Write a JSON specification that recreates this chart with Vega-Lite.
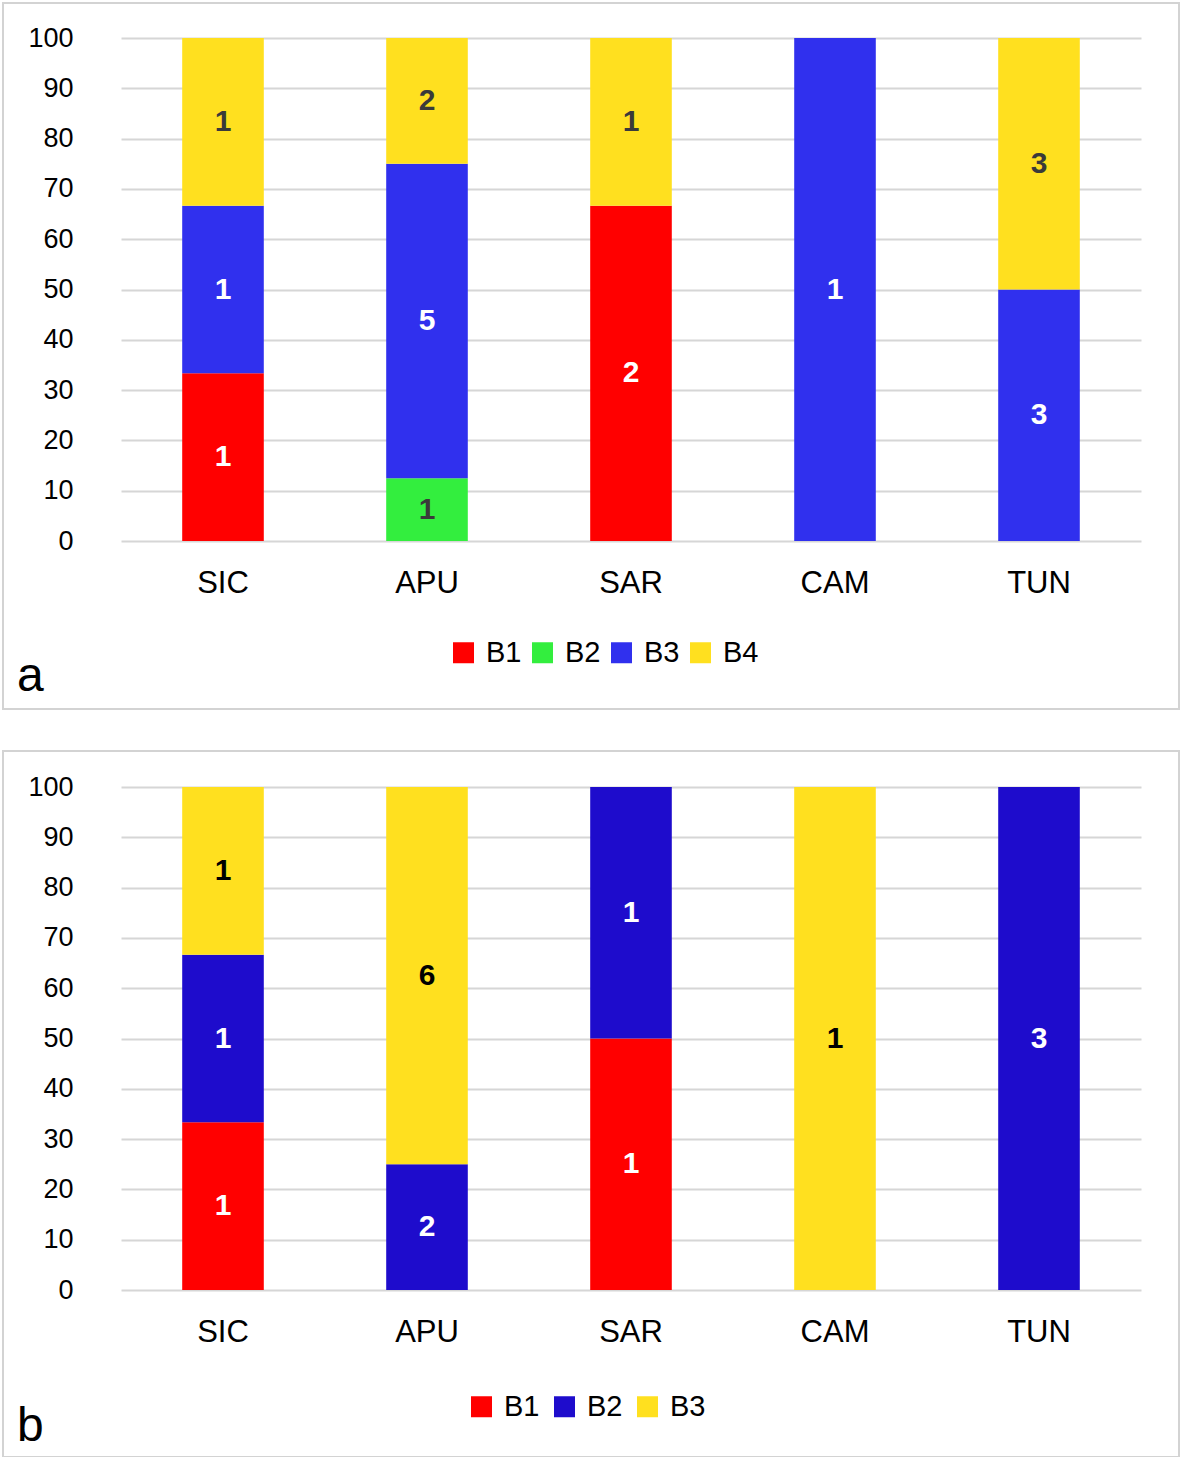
{
  "$schema": "https://vega.github.io/schema/vega-lite/v6.json",
  "padding": {"left": 2, "top": 2, "right": 2, "bottom": 0},
  "background": "white",
  "datasets": {
    "a": [
      {"region": "SIC", "cls": "B1", "n": 1, "pct": 33.333},
      {"region": "SIC", "cls": "B3", "n": 1, "pct": 33.333},
      {"region": "SIC", "cls": "B4", "n": 1, "pct": 33.334},
      {"region": "APU", "cls": "B2", "n": 1, "pct": 12.5},
      {"region": "APU", "cls": "B3", "n": 5, "pct": 62.5},
      {"region": "APU", "cls": "B4", "n": 2, "pct": 25},
      {"region": "SAR", "cls": "B1", "n": 2, "pct": 66.667},
      {"region": "SAR", "cls": "B4", "n": 1, "pct": 33.333},
      {"region": "CAM", "cls": "B3", "n": 1, "pct": 100},
      {"region": "TUN", "cls": "B3", "n": 3, "pct": 50},
      {"region": "TUN", "cls": "B4", "n": 3, "pct": 50}
    ],
    "b": [
      {"region": "SIC", "cls": "B1", "n": 1, "pct": 33.333},
      {"region": "SIC", "cls": "B2", "n": 1, "pct": 33.333},
      {"region": "SIC", "cls": "B3", "n": 1, "pct": 33.334},
      {"region": "APU", "cls": "B2", "n": 2, "pct": 25},
      {"region": "APU", "cls": "B3", "n": 6, "pct": 75},
      {"region": "SAR", "cls": "B1", "n": 1, "pct": 50},
      {"region": "SAR", "cls": "B2", "n": 1, "pct": 50},
      {"region": "CAM", "cls": "B3", "n": 1, "pct": 100},
      {"region": "TUN", "cls": "B2", "n": 3, "pct": 100}
    ]
  },
  "spacing": 40,
  "resolve": {"scale": {"color": "independent"}, "legend": {"color": "independent"}},
  "vconcat": [
    {
      "width": 1176,
      "height": 706,
      "data": {"name": "a"},
      "transform": [
        {"stack": "pct", "groupby": ["region"], "sort": [{"field": "cls", "order": "ascending"}], "as": ["y0", "y1"]},
        {"calculate": "(datum.y0 + datum.y1) / 2", "as": "ym"}
      ],
      "title": {"text": "a", "orient": "bottom", "anchor": "start", "frame": "group", "offset": -18, "baseline": "alphabetic", "dx": 14, "fontSize": 48, "fontWeight": "normal", "font": "Liberation Sans", "color": "black"},
      "encoding": {
        "x": {
          "field": "region", "type": "nominal",
          "scale": {"domain": ["SIC", "APU", "SAR", "CAM", "TUN"], "range": [118, 1138], "paddingInner": 0.6, "paddingOuter": 0.3},
          "axis": {"title": null, "domain": false, "ticks": false, "tickSize": 0, "labelPadding": 27, "offset": -168, "labelFontSize": 31, "labelFont": "Liberation Sans", "labelColor": "black", "labelAngle": 0, "grid": false}
        }
      },
      "layer": [
        {
          "mark": {"type": "bar"},
          "encoding": {
            "y": {
              "field": "y1", "type": "quantitative",
              "scale": {"domain": [0, 100], "range": [538, 35], "nice": false, "zero": true},
              "axis": {"title": null, "values": [0, 10, 20, 30, 40, 50, 60, 70, 80, 90, 100], "domain": false, "ticks": false, "tickSize": 0, "labelPadding": 0, "offset": -70, "labelFontSize": 27, "labelFont": "Liberation Sans", "labelColor": "black", "grid": true, "gridColor": "#d6d6d6", "gridWidth": 2}
            },
            "y2": {"field": "y0"},
            "color": {
              "field": "cls", "type": "nominal",
              "scale": {"domain": ["B1", "B2", "B3", "B4"], "range": ["#ff0000", "#33ee3e", "#3030ee", "#ffe01f"]},
              "legend": {"title": null, "orient": "none", "legendX": 446, "legendY": 635, "direction": "horizontal", "columns": 4, "symbolType": "square", "symbolSize": 441, "symbolStrokeWidth": 0, "symbolOpacity": 1, "labelFontSize": 29, "labelFont": "Liberation Sans", "labelColor": "black", "labelOffset": 8, "columnPadding": 6, "padding": 0}
            }
          }
        },
        {
          "mark": {"type": "text", "fontSize": 30, "fontWeight": "bold", "font": "Liberation Sans", "align": "center", "baseline": "middle"},
          "encoding": {
            "y": {"field": "ym", "type": "quantitative"},
            "text": {"field": "n", "type": "quantitative"},
            "color": {"condition": {"test": "datum.cls === 'B2' || datum.cls === 'B4'", "value": "#3a3a3a"}, "value": "white"}
          }
        }
      ]
    },
    {
      "width": 1176,
      "height": 706,
      "data": {"name": "b"},
      "transform": [
        {"stack": "pct", "groupby": ["region"], "sort": [{"field": "cls", "order": "ascending"}], "as": ["y0", "y1"]},
        {"calculate": "(datum.y0 + datum.y1) / 2", "as": "ym"}
      ],
      "title": {"text": "b", "orient": "bottom", "anchor": "start", "frame": "group", "offset": -16, "baseline": "alphabetic", "dx": 14, "fontSize": 48, "fontWeight": "normal", "font": "Liberation Sans", "color": "black"},
      "encoding": {
        "x": {
          "field": "region", "type": "nominal",
          "scale": {"domain": ["SIC", "APU", "SAR", "CAM", "TUN"], "range": [118, 1138], "paddingInner": 0.6, "paddingOuter": 0.3},
          "axis": {"title": null, "domain": false, "ticks": false, "tickSize": 0, "labelPadding": 27, "offset": -167, "labelFontSize": 31, "labelFont": "Liberation Sans", "labelColor": "black", "labelAngle": 0, "grid": false}
        }
      },
      "layer": [
        {
          "mark": {"type": "bar"},
          "encoding": {
            "y": {
              "field": "y1", "type": "quantitative",
              "scale": {"domain": [0, 100], "range": [539, 36], "nice": false, "zero": true},
              "axis": {"title": null, "values": [0, 10, 20, 30, 40, 50, 60, 70, 80, 90, 100], "domain": false, "ticks": false, "tickSize": 0, "labelPadding": 0, "offset": -70, "labelFontSize": 27, "labelFont": "Liberation Sans", "labelColor": "black", "grid": true, "gridColor": "#d6d6d6", "gridWidth": 2}
            },
            "y2": {"field": "y0"},
            "color": {
              "field": "cls", "type": "nominal",
              "scale": {"domain": ["B1", "B2", "B3"], "range": ["#ff0000", "#1e0ccc", "#ffe01f"]},
              "legend": {"title": null, "orient": "none", "legendX": 464, "legendY": 641, "direction": "horizontal", "columns": 3, "symbolType": "square", "symbolSize": 441, "symbolStrokeWidth": 0, "symbolOpacity": 1, "labelFontSize": 29, "labelFont": "Liberation Sans", "labelColor": "black", "labelOffset": 8, "columnPadding": 10, "padding": 0}
            }
          }
        },
        {
          "mark": {"type": "text", "fontSize": 30, "fontWeight": "bold", "font": "Liberation Sans", "align": "center", "baseline": "middle"},
          "encoding": {
            "y": {"field": "ym", "type": "quantitative"},
            "text": {"field": "n", "type": "quantitative"},
            "color": {"condition": {"test": "datum.cls === 'B3'", "value": "black"}, "value": "white"}
          }
        }
      ]
    }
  ],
  "config": {
    "view": {"stroke": "#d3d3d3", "strokeWidth": 2, "fill": "white"}
  }
}
